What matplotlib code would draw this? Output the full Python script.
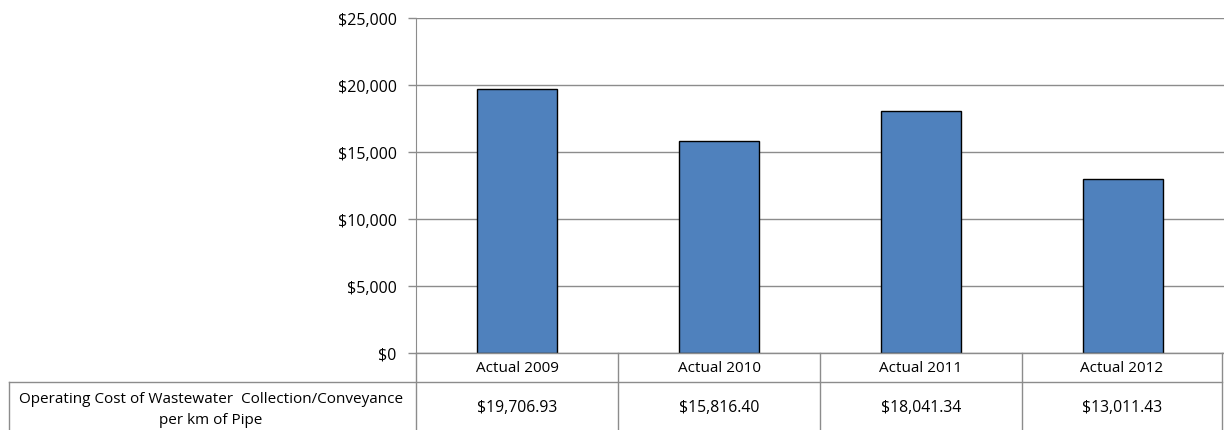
import matplotlib.pyplot as plt
from matplotlib.lines import Line2D
import numpy as np

plt.rcParams['font.family'] = ['Open Sans', 'DejaVu Sans']

years = ['Actual 2009', 'Actual 2010', 'Actual 2011', 'Actual 2012']
cost = [19706.93, 15816.40, 18041.34, 13011.43]
row_label = 'Operating Cost of Wastewater  Collection/Conveyance\nper km of Pipe'
yticks = [0, 5000, 10000, 15000, 20000, 25000]

grey = '#8c8c8c'
W, H = 1224, 431

fig = plt.figure(figsize=(W / 100, H / 100), dpi=100)
ax = fig.add_axes([416 / W, 77 / H, 808 / W, 335 / H])

x = np.arange(len(years))
ax.bar(x, cost, width=0.4, color='#4f81bd', edgecolor='black', linewidth=1, zorder=3)

ax.set_xlim(-0.5, len(years) - 0.5)
ax.set_ylim(0, 25000)
ax.set_yticks(yticks)
ax.set_yticklabels(['${:,.0f}'.format(v) for v in yticks], fontsize=11.5)
ax.set_xticks([])
ax.yaxis.grid(True, color=grey, linewidth=1)
ax.set_axisbelow(True)
for s in ['top', 'right', 'bottom']:
    ax.spines[s].set_visible(False)
ax.spines['left'].set_color(grey)
ax.tick_params(axis='y', length=6, color=grey, pad=8, width=1)

# data table under the chart, drawn in pixel positions of the figure
def fx(px):
    return px / W

def fy(py):
    return 1 - py / H

def hline(y, x0, x1):
    fig.add_artist(Line2D([fx(x0), fx(x1)], [fy(y), fy(y)], color=grey, lw=1))

def vline(xp, y0, y1):
    fig.add_artist(Line2D([fx(xp), fx(xp)], [fy(y0), fy(y1)], color=grey, lw=1))

col_edges = [416, 618, 820, 1022, 1222]
hline(354, 416, 1224)
hline(383, 9, 1222)
for xe in col_edges:
    vline(xe, 354, 440)
vline(9, 383, 440)

for i, yr in enumerate(years):
    cx = (col_edges[i] + col_edges[i + 1]) / 2
    fig.text(fx(cx), fy(369), yr, ha='center', va='center', fontsize=11)
    fig.text(fx(cx), fy(408), '${:,.2f}'.format(cost[i]), ha='center', va='center', fontsize=11.3)

fig.text(fx(211), fy(410), row_label, ha='center', va='center', fontsize=11,
         linespacing=1.5)

fig.savefig('out.png', dpi=100)
